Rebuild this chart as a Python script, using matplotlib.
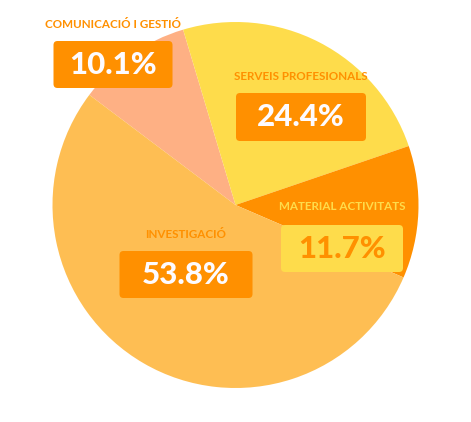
import matplotlib.pyplot as plt
from matplotlib.patches import FancyBboxPatch

# Data
categories = ['COMUNICACIÓ I GESTIÓ', 'SERVEIS PROFESIONALS', 'MATERIAL ACTIVITATS', 'INVESTIGACIÓ']
shares = [10.1, 24.4, 11.7, 53.8]
pct_labels = ['10.1%', '24.4%', '11.7%', '53.8%']

# Styling
slice_colors = ['#FEB084', '#FEDC4B', '#FF9000', '#FEBE53']
box_colors = ['#FF9000', '#FF9000', '#FEDC4B', '#FF9000']
pct_colors = ['#FDFBFF', '#FDFBFF', '#FF9000', '#FDFBFF']
name_colors = ['#FF9000', '#FF9000', '#FEDC4B', '#FF9000']

W, H = 471, 422
# label layout in pixels from top-left: (center x, name y, box top, box bottom, box width)
layout = [
    (113, 24, 41, 88, 119),
    (301, 77, 93, 141, 130),
    (342, 207, 225, 272, 122),
    (186, 234, 251, 298, 133),
]

fig = plt.figure(figsize=(W / 100, H / 100), dpi=100)
ax = fig.add_axes([0, 0, 1, 1])

ax.pie(shares, colors=slice_colors, startangle=143, counterclock=False,
       center=(235.5, H - 205), radius=183,
       wedgeprops=dict(linewidth=0))

for i, (cx, ny, top, bot, bw) in enumerate(layout):
    ax.text(cx, H - ny, categories[i], ha='center', va='center',
            fontsize=8.4, fontweight='bold', color=name_colors[i], family='Lato')
    box = FancyBboxPatch((cx - bw / 2, H - bot), bw, bot - top,
                         boxstyle='round,pad=0,rounding_size=4',
                         facecolor=box_colors[i], edgecolor='none', zorder=3)
    ax.add_patch(box)
    ax.text(cx, H - (top + bot) / 2, pct_labels[i], ha='center', va='center',
            fontsize=22.5, fontweight='black', color=pct_colors[i], family='Lato', zorder=4)

ax.set_xlim(0, W)
ax.set_ylim(0, H)
ax.set_aspect('equal')
ax.axis('off')

fig.savefig('out.png', dpi=100)
